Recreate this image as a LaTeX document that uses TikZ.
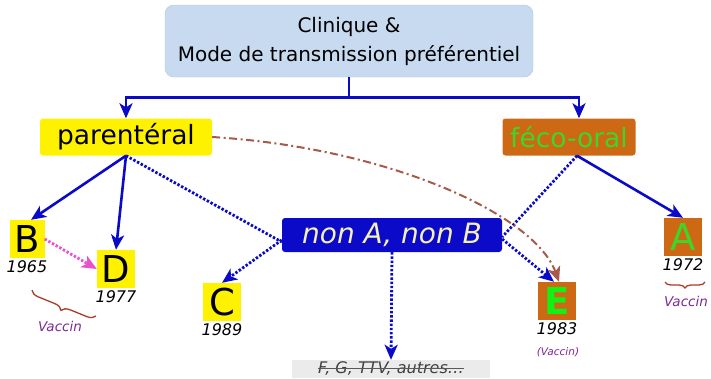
\documentclass[tikz,border=0pt]{standalone}
\usepackage{fontspec}
\setmainfont{DejaVu Sans}
\usetikzlibrary{arrows.meta,decorations.pathreplacing}
\definecolor{titlebg}{RGB}{200,218,240}
\definecolor{titleline}{RGB}{170,196,228}
\definecolor{linkblue}{RGB}{10,10,200}
\definecolor{fecoorange}{RGB}{205,105,20}
\definecolor{fecogreen}{RGB}{60,215,40}
\definecolor{egreen}{RGB}{20,240,20}
\definecolor{nabtext}{RGB}{245,240,180}
\definecolor{curvered}{RGB}{165,90,75}
\definecolor{pinkarrow}{RGB}{235,80,205}
\definecolor{vaccinpurple}{RGB}{125,40,150}
\definecolor{bracebrown}{RGB}{170,60,40}
\begin{document}
\begin{tikzpicture}[x=1pt,y=-1pt,>={Stealth[length=15pt,width=13pt,inset=4pt]},
	conn/.style={->,draw=linkblue,line width=2.6pt},
	dots/.style={->,draw=linkblue,line width=2.8pt,dash pattern=on 2.4pt off 1.8pt},
	letter/.style={minimum width=38pt,minimum height=38pt,inner sep=0pt,font=\fontsize{37}{37}\selectfont},
	year/.style={anchor=north,inner sep=2.5pt,font=\fontsize{16}{16}\selectfont\itshape},
	vaccin/.style={text=vaccinpurple,inner sep=1pt,font=\fontsize{13.5}{13.5}\selectfont\itshape},
	mode/.style={rounded corners=3pt,minimum height=37pt,inner sep=0pt,font=\fontsize{26.5}{26.5}\selectfont}]
	\clip (0,0) rectangle (711,378);
	\useasboundingbox (0,0) rectangle (711,378);
	% titre
	\node[draw=titleline,fill=titlebg,rounded corners=9pt,minimum width=368pt,minimum height=72pt,
		align=center,font=\fontsize{20}{29}\selectfont] (title) at (349,41) {Clinique \&\\Mode de transmission préférentiel};
	\node[mode,fill=yellow,minimum width=172pt] (parent) at (126,137) {parentéral};
	\node[mode,fill=fecoorange,text=fecogreen,minimum width=133pt] (feco) at (569,137) {féco-oral};
	\draw[conn] (title.south) -- ++(0,20) -| (parent.north);
	\draw[conn] (title.south) -- ++(0,20) -| ([xshift=10pt]feco.north);
	% virus
	\node[letter,fill=yellow,minimum width=35pt] (B) at (27,239) {B};
	\node[letter,fill=yellow] (D) at (116,269) {D};
	\node[letter,fill=yellow] (C) at (222,302) {C};
	\node[letter,fill=fecoorange,text=egreen,font=\fontsize{37}{37}\selectfont\bfseries] (E) at (557,301) {E};
	\node[letter,fill=fecoorange,text=fecogreen] (A) at (683,237) {A};
	\node[year] (yB) at (B.south) {1965};
	\node[year] (yD) at (D.south) {1977};
	\node[year] (yC) at (C.south) {1989};
	\node[year] (yE) at (E.south) {1983};
	\node[year] (yA) at (A.south) {1972};
	\node[mode,fill=linkblue,text=nabtext,minimum width=220pt,minimum height=34pt,font=\fontsize{28}{28}\selectfont\itshape] (nab) at (392,235) {non A, non B};
	\node[fill=black!8,minimum width=198pt,minimum height=18pt,inner sep=0pt] (autresbg) at (391,369) {};
	\node[inner sep=0pt,text=black!75,font=\fontsize{16}{16}\selectfont\itshape] (autres) at (391,368.5) {F, G, TTV, autres…};
	\draw[black!65,line width=1pt] ([yshift=5pt]autres.base west) -- ([yshift=5pt]autres.base east);
	% liens
	\draw[conn] (parent.south) -- ([xshift=4pt]B.north);
	\draw[conn] (parent.south) -- (D.north);
	\draw[dots,-] (parent.south) -- ([yshift=-7pt]nab.west);
	\draw[dots] ([yshift=-5pt]nab.west) -- (C.north);
	\draw[dots,draw=pinkarrow,pinkarrow] (B.east) -- (D.west);
	\draw[conn] ([xshift=8pt]feco.south) -- (A.north);
	\draw[dots,-] ([xshift=8pt]feco.south) -- ([yshift=-2pt]nab.east);
	\draw[dots] ([yshift=-4pt]nab.east) -- ([xshift=-3pt]E.north);
	\draw[dots] (nab.south) -- (autresbg.north);
	\draw[->,curvered,line width=2pt,dash pattern=on 8pt off 3.5pt on 2pt off 3.5pt]
		(parent.east) .. controls (390,148) and (535,215) .. ([xshift=2pt]E.north);
	% vaccins
	\draw[bracebrown,line width=1.3pt,decorate,decoration={brace,amplitude=8pt}] (96,316) -- (32,290);
	\node[vaccin] (vBD) at (60,326) {Vaccin};
	\draw[bracebrown,line width=1.3pt,decorate,decoration={brace,amplitude=6pt}] (705,282) -- (665,282);
	\node[vaccin] (vA) at (686,301) {Vaccin};
	\node[vaccin,font=\fontsize{10.5}{10.5}\selectfont\itshape] (vE) at (558,352) {(Vaccin)};
\end{tikzpicture}
\end{document}
